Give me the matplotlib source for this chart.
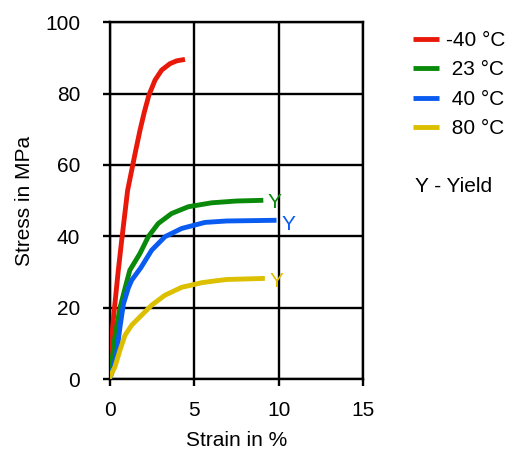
import matplotlib
matplotlib.use("Agg")
import matplotlib.pyplot as plt

plt.rcParams['font.family'] = ['Liberation Sans', 'DejaVu Sans']

# Stress-strain curves
strain_m40 = [0, 0.02, 0.22, 0.52, 0.72, 1.07, 1.31, 1.55, 1.80, 2.06, 2.33,
              2.69, 3.08, 3.57, 3.97, 4.46]
stress_m40 = [0, 4.5, 16.5, 30.5, 38.9, 52.9, 58.5, 64.1, 69.7, 74.9, 79.6,
              83.8, 86.6, 88.4, 89.2, 89.6]

strain_23 = [0, 0.13, 0.32, 0.62, 0.92, 1.2, 1.80, 2.29, 2.88, 3.67, 4.66,
             6.04, 7.5, 9.09]
stress_23 = [0, 4.5, 11.8, 20.0, 25.5, 30.5, 35.2, 39.9, 43.6, 46.4, 48.3,
             49.4, 49.9, 50.1]

strain_40 = [0, 0.13, 0.42, 0.62, 0.82, 1.11, 1.31, 1.85, 2.49, 3.28, 4.26,
             5.64, 6.92, 9.87]
stress_40 = [0, 1.6, 7.2, 14.6, 21.0, 25.5, 27.7, 31.2, 36.1, 39.9, 42.2,
             43.9, 44.3, 44.5]

strain_80 = [0, 0.03, 0.32, 0.62, 0.92, 1.31, 1.90, 2.49, 3.28, 4.26, 5.45,
             6.23, 6.92, 9.18]
stress_80 = [0, 0.6, 3.4, 8.1, 12.3, 15.1, 17.9, 20.7, 23.5, 25.7, 27.0,
             27.5, 27.9, 28.2]

labels = ['-40 °C', ' 23 °C', ' 40 °C', ' 80 °C']
colors = ['#e8190a', '#0a8a0a', '#0a5cf0', '#dcc000']

# yield markers (x, y) per curve, none for -40 °C
yield_pts = [None, (9.35, 49.6), (10.15, 43.4), (9.45, 27.2)]

fig = plt.figure(figsize=(5.12, 4.49), dpi=100)
ax = fig.add_axes([0.2139, 0.1559, 0.4957, 0.7944])

series = [(strain_m40, stress_m40), (strain_23, stress_23),
          (strain_40, stress_40), (strain_80, stress_80)]
for (x, y), lab, c in zip(series, labels, colors):
    ax.plot(x, y, color=c, lw=3.5, label=lab, solid_capstyle='butt',
            solid_joinstyle='round', zorder=3)

for pt, c in zip(yield_pts, colors):
    if pt is not None:
        ax.text(pt[0], pt[1], 'Y', color=c, fontsize=15, va='center', ha='left')

ax.set_xlim(0, 15)
ax.set_ylim(0, 100)
ax.set_xticks([0, 5, 10, 15])
ax.set_yticks([0, 20, 40, 60, 80, 100])
ax.grid(True, color='black', lw=1.7)
for s in ax.spines.values():
    s.set_linewidth(1.7)
ax.tick_params(direction='out', length=5, width=1.7, labelsize=15)
ax.tick_params(axis='x', pad=11)
ax.tick_params(axis='y', pad=16)
ax.set_xlabel('Strain in %', fontsize=15, labelpad=8)
ax.set_ylabel('Stress in MPa', fontsize=15, labelpad=8)

handles, _ = ax.get_legend_handles_labels()
fig.legend(handles, labels, loc='upper left',
           bbox_to_anchor=(413 / 512, 1 - 31 / 449), frameon=False,
           fontsize=15, handlelength=1.25, handletextpad=0.35,
           labelspacing=0.5, borderpad=0, borderaxespad=0)
fig.text(415 / 512, 1 - 187 / 449, 'Y - Yield', fontsize=15, va='center')

fig.savefig('out.png', dpi=100)
